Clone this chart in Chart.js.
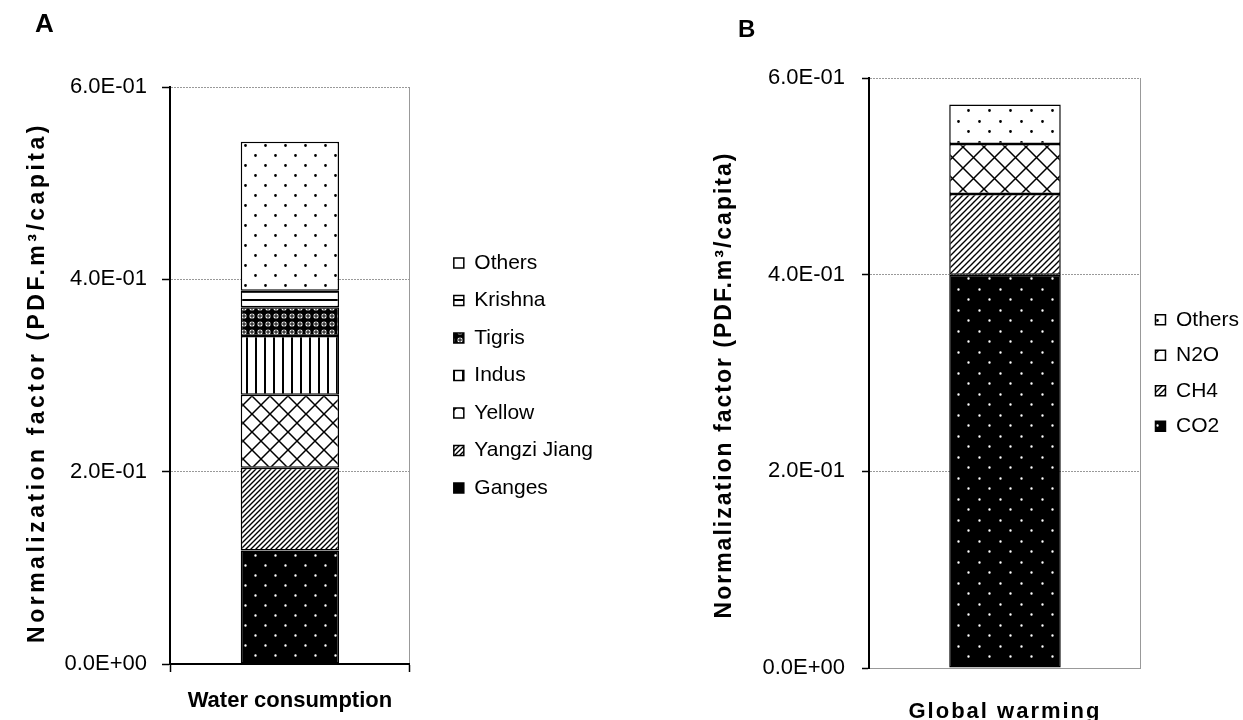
<!DOCTYPE html>
<html>
<head>
<meta charset="utf-8">
<script src="https://cdn.jsdelivr.net/npm/chart.js@4.4.1/dist/chart.umd.min.js"></script>
<style>
  body { margin: 0; width: 1243px; height: 720px; overflow: hidden; background: #fff; position: relative; font-family: "Liberation Sans", Arial, sans-serif; }
  canvas { position: absolute; top: 0; }
  .panel { position: absolute; font-weight: bold; line-height: 1; color: #000; }
</style>
</head>
<body>
<canvas id="chartA" width="603" height="720" style="left:0"></canvas>
<canvas id="chartB" width="559" height="720" style="left:690px"></canvas>
<div class="panel" style="left:35px;top:10px;font-size:26px">A</div>
<div class="panel" style="left:738px;top:17px;font-size:24px">B</div>
<script>
// data
const categoriesA = ["Water consumption"];
const seriesA = ["Ganges", "Yangzi Jiang", "Yellow", "Indus", "Tigris", "Krishna", "Others"];
const valuesA = [0.118, 0.086, 0.076, 0.061, 0.030, 0.017, 0.155];

const categoriesB = ["Global warming"];
const seriesB = ["CO2", "CH4", "N2O", "Others"];
const valuesB = [0.400, 0.082, 0.051, 0.040];

const yTicks = [0, 0.2, 0.4, 0.6];
const yTickLabels = ["0.0E+00", "2.0E-01", "4.0E-01", "6.0E-01"];

Chart.defaults.font.family = "'Liberation Sans', Arial, sans-serif";
Chart.defaults.color = "#000";

// the original text is stretched a bit, so space out some of it
const titleSpacing = { chartA: "3.5px", chartB: "2px" };
const titleShift = { chartA: 7, chartB: 12 };
const labelSpacing = { chartB: "2px" };
const drawTitle = Chart.Scale.prototype.drawTitle;
Chart.Scale.prototype.drawTitle = function () {
  const id = this.chart.canvas.id;
  this.ctx.save();
  if (this.axis === "y") {
    this.ctx.letterSpacing = titleSpacing[id] || "0px";
    this.ctx.translate(0, titleShift[id] || 0);
  }
  drawTitle.call(this);
  this.ctx.restore();
};
const drawLabels = Chart.Scale.prototype.drawLabels;
Chart.Scale.prototype.drawLabels = function (area) {
  this.ctx.save();
  this.ctx.letterSpacing = (this.axis === "x" && labelSpacing[this.chart.canvas.id]) || "0px";
  drawLabels.call(this, area);
  this.ctx.restore();
};

// fill patterns
function makePattern(w, h, paint) {
  const c = document.createElement("canvas");
  c.width = w;
  c.height = h;
  const g = c.getContext("2d");
  paint(g, w, h);
  return g.createPattern(c, "repeat");
}
function dots(bg, fg, step, r) {
  return makePattern(step, step, (g, w, h) => {
    g.fillStyle = bg;
    g.fillRect(0, 0, w, h);
    g.fillStyle = fg;
    g.beginPath();
    g.arc(Math.round(w / 4) + 0.5, Math.round(h / 4) + 0.5, r, 0, Math.PI * 2);
    g.arc(Math.round(3 * w / 4) + 0.5, Math.round(3 * h / 4) + 0.5, r, 0, Math.PI * 2);
    g.fill();
  });
}
function hLines(step) {
  return makePattern(4, step, (g, w, h) => {
    g.fillStyle = "#fff"; g.fillRect(0, 0, w, h);
    g.fillStyle = "#000"; g.fillRect(0, Math.floor(h / 2) - 1, w, 2);
  });
}
function vLines(step) {
  return makePattern(step, 4, (g, w, h) => {
    g.fillStyle = "#fff"; g.fillRect(0, 0, w, h);
    g.fillStyle = "#000"; g.fillRect(Math.floor(w / 2) - 1, 0, 2, h);
  });
}
function crossHatch(step) {
  return makePattern(step, step, (g, w, h) => {
    g.fillStyle = "#fff"; g.fillRect(0, 0, w, h);
    g.strokeStyle = "#000"; g.lineWidth = 1.5;
    g.beginPath();
    g.moveTo(-2, -2); g.lineTo(w + 2, h + 2);
    g.moveTo(w + 2, -2); g.lineTo(-2, h + 2);
    g.stroke();
  });
}
function diagonal(step) {
  return makePattern(step, step, (g, w, h) => {
    g.fillStyle = "#fff"; g.fillRect(0, 0, w, h);
    g.strokeStyle = "#000"; g.lineWidth = 1.4;
    g.beginPath();
    for (let k = -1; k <= 1; k++) {
      g.moveTo(k * w - 1, h + 1);
      g.lineTo(k * w + w + 1, -1);
    }
    g.stroke();
  });
}
function darkCross(step) {
  return makePattern(step, step, (g, w, h) => {
    g.fillStyle = "#000"; g.fillRect(0, 0, w, h);
    g.fillStyle = "#fff";
    g.beginPath(); g.arc(w / 2, h / 2, 2.6, 0, Math.PI * 2); g.fill();
    g.fillStyle = "#000";
    g.fillRect(w / 2 - 0.5, h / 2 - 2.5, 1, 5);
    g.fillRect(w / 2 - 2.5, h / 2 - 0.5, 5, 1);
  });
}

const fillsA = [dots("#000", "#fff", 20, 1.2), diagonal(5), crossHatch(18), vLines(9), darkCross(8), hLines(8), dots("#fff", "#000", 20, 1.4)];
const fillsB = [dots("#000", "#fff", 21, 1.2), diagonal(6), crossHatch(21), dots("#fff", "#000", 21, 1.4)];

function bars(names, values, fills) {
  return names.map((name, i) => ({
    label: name,
    data: [values[i]],
    backgroundColor: fills[i],
    borderColor: "#000",
    borderWidth: 1.5,
    borderSkipped: false,
    barPercentage: 0.41,
    categoryPercentage: 1
  }));
}

function yScale(tickPad, tickLen, titlePad, width, zeroColor) {
  return {
    stacked: true,
    min: 0,
    max: 0.6,
    afterBuildTicks: s => { s.ticks = yTicks.map(v => ({ value: v })); },
    grid: { color: c => c.index === 0 ? zeroColor : "#999", tickColor: "#000", tickLength: tickLen, tickWidth: 1.5 },
    border: { color: "#000", width: 2, dash: [2, 1] },
    ticks: { padding: tickPad, font: { size: 22 }, callback: (v, i) => yTickLabels[i] },
    title: {
      display: true,
      text: "Normalization factor (PDF.m³/capita)",
      font: { size: 23, weight: "bold" },
      padding: { top: titlePad, bottom: 0 }
    },
    afterFit: s => { s.width = width; }
  };
}

new Chart("chartA", {
  type: "bar",
  data: { labels: categoriesA, datasets: bars(seriesA, valuesA, fillsA) },
  options: {
    responsive: false,
    animation: false,
    layout: { padding: { left: 10, top: 87, right: 0, bottom: 0 } },
    plugins: {
      legend: {
        position: "right", fullSize: false, reverse: true, maxWidth: 220,
        labels: { boxWidth: 10, boxHeight: 10, padding: 16.5, font: { size: 21 } }
      },
      tooltip: { enabled: false }
    },
    scales: {
      x: {
        stacked: true,
        grid: { color: c => c.index === 0 ? "rgba(0,0,0,0)" : "#999", tickColor: "#000", tickLength: 8, tickWidth: 1.5 },
        border: { color: "#000", width: 2 },
        ticks: { padding: 16, maxRotation: 0, font: { size: 22, weight: "bold" } },
        afterFit: s => { s.height = 56; }
      },
      y: yScale(15, 8, 14, 160, "rgba(0,0,0,0)"),
      y2: {
        position: "right",
        grid: { display: false },
        border: { display: false },
        ticks: { display: false },
        afterFit: s => { s.width = 27.5; }
      }
    }
  }
});

new Chart("chartB", {
  type: "bar",
  data: { labels: categoriesB, datasets: bars(seriesB, valuesB, fillsB) },
  options: {
    responsive: false,
    animation: false,
    layout: { padding: { left: 10, top: 78, right: 0, bottom: 0 } },
    plugins: {
      legend: {
        position: "right", fullSize: false, reverse: true, maxWidth: 220,
        labels: { boxWidth: 10, boxHeight: 10, padding: 14.5, font: { size: 21 } }
      },
      tooltip: { enabled: false }
    },
    scales: {
      x: {
        stacked: true,
        grid: { color: c => c.index === 0 ? "rgba(0,0,0,0)" : "#999", drawTicks: false },
        border: { color: "#999", width: 1 },
        ticks: { padding: 31, maxRotation: 0, font: { size: 22, weight: "bold" } },
        afterFit: s => { s.height = 52; }
      },
      y: yScale(17, 7, 11, 169, "#999")
    }
  }
});
</script>
</body>
</html>
